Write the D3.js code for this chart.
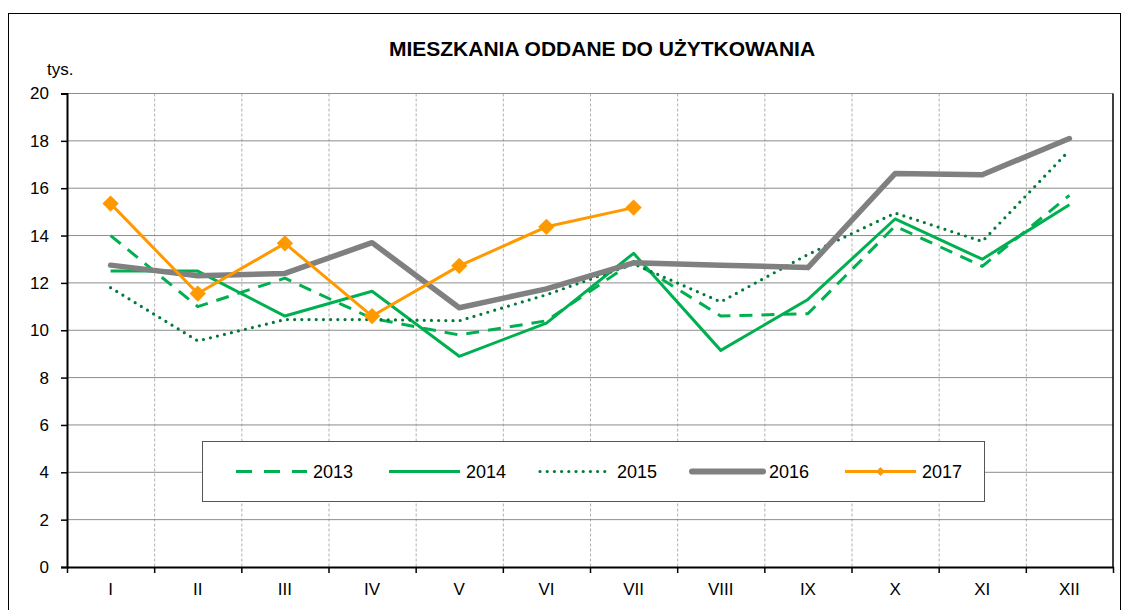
<!DOCTYPE html>
<html>
<head>
<meta charset="utf-8">
<script src="https://cdn.jsdelivr.net/npm/d3@7"></script>
<style>
  body { margin: 0; background: #fff; }
  svg text { font-family: "Liberation Sans", Arial, sans-serif; }
</style>
</head>
<body>
<svg id="canvas"></svg>
<script>
let months = ["I", "II", "III", "IV", "V", "VI", "VII", "VIII", "IX", "X", "XI", "XII"]
let yTicks = [0, 2, 4, 6, 8, 10, 12, 14, 16, 18, 20]

let v2013 = [14.0, 11.0, 12.2, 10.5, 9.8, 10.4, 12.9, 10.6, 10.7, 14.4, 12.7, 15.7]
let v2014 = [12.5, 12.5, 10.6, 11.65, 8.9, 10.3, 13.25, 9.15, 11.3, 14.7, 13.0, 15.3]
let v2015 = [11.8, 9.55, 10.45, 10.45, 10.4, 11.5, 12.8, 11.2, 13.2, 14.95, 13.75, 17.6]
let v2016 = [12.75, 12.3, 12.4, 13.7, 10.95, 11.75, 12.85, 12.75, 12.65, 16.62, 16.57, 18.1]
let v2017 = [15.35, 11.55, 13.67, 10.6, 12.72, 14.37, 15.18]

let width = 1130
let height = 610
let plotLeft = 67
let plotRight = 1113
let plotTop = 93.5
let plotBottom = 567

let svg = d3.select("#canvas")
    .attr("width", width)
    .attr("height", height)

// outer frame
svg.append("rect")
    .attr("x", 8.5).attr("y", 13.5)
    .attr("width", 1112).attr("height", 640)
    .attr("fill", "none").attr("stroke", "#000").attr("stroke-width", 1)

let xScale = d3.scaleBand().domain(months).range([plotLeft, plotRight])
let xEdge = d3.scaleLinear().domain([0, 12]).range([plotLeft, plotRight])
let yScale = d3.scaleLinear().domain([0, 20]).range([plotBottom, plotTop])

// gridlines
svg.append("g")
    .selectAll("line")
    .data(d3.range(1, 12))
    .enter()
    .append("line")
    .attr("x1", (d) => xEdge(d) + 0.5).attr("x2", (d) => xEdge(d) + 0.5)
    .attr("y1", plotTop).attr("y2", plotBottom)
    .attr("stroke", "#b0b0b0").attr("stroke-dasharray", "3,2")

svg.append("g")
    .selectAll("line")
    .data(yTicks.slice(1))
    .enter()
    .append("line")
    .attr("x1", plotLeft).attr("x2", plotRight)
    .attr("y1", (d) => yScale(d)).attr("y2", (d) => yScale(d))
    .attr("stroke", "#8c8c8c").attr("stroke-width", 1)

// right border of plot
svg.append("line")
    .attr("x1", plotRight).attr("x2", plotRight)
    .attr("y1", plotTop).attr("y2", plotBottom)
    .attr("stroke", "#000").attr("stroke-width", 1.5)

// axes
let yAxis = d3.axisLeft(yScale).tickValues(yTicks).tickSize(6).tickPadding(12)
let yG = svg.append("g").attr("transform", "translate(" + plotLeft + ",0)").call(yAxis)
yG.select(".domain").attr("stroke", "#000").attr("stroke-width", 2)
yG.selectAll(".tick line").attr("stroke", "#000").attr("stroke-width", 1.5)
yG.selectAll("text").attr("font-size", 17).attr("fill", "#000")

let xAxis = d3.axisBottom(xEdge).tickValues(d3.range(0, 13)).tickFormat("").tickSize(6).tickSizeOuter(0)
let xG = svg.append("g").attr("transform", "translate(0," + plotBottom + ")").call(xAxis)
xG.select(".domain").attr("stroke", "#000").attr("stroke-width", 2)
xG.selectAll(".tick line").attr("stroke", "#000").attr("stroke-width", 1.5)

let xLab = d3.axisBottom(xScale).tickSize(0).tickPadding(16)
let xL = svg.append("g").attr("transform", "translate(0," + plotBottom + ")").call(xLab)
xL.select(".domain").remove()
xL.selectAll("text").attr("font-size", 17).attr("fill", "#000")

// titles
svg.append("text")
    .attr("x", 602).attr("y", 56)
    .attr("text-anchor", "middle")
    .attr("font-size", 21).attr("font-weight", "bold")
    .text("MIESZKANIA ODDANE DO UŻYTKOWANIA")

svg.append("text")
    .attr("x", 47).attr("y", 75)
    .attr("font-size", 17)
    .text("tys.")

// series
let series = [
    { name: "2013", values: v2013, color: "#00b050", width: 3, dash: "13,9", cap: "butt" },
    { name: "2014", values: v2014, color: "#00b050", width: 3, dash: null, cap: "butt" },
    { name: "2015", values: v2015, color: "#007a3a", width: 3.2, dash: "0,7.2", cap: "round" },
    { name: "2016", values: v2016, color: "#808080", width: 5.5, dash: null, cap: "round" },
    { name: "2017", values: v2017, color: "#ff9900", width: 3, dash: null, cap: "butt" }
]

let line = d3.line()
    .x((d, i) => xScale(months[i]) + xScale.bandwidth() / 2)
    .y((d) => yScale(d))

series.forEach((s) => {
    svg.append("path")
        .datum(s.values)
        .attr("d", line)
        .attr("fill", "none")
        .attr("stroke", s.color)
        .attr("stroke-width", s.width)
        .attr("stroke-linecap", s.cap)
        .attr("stroke-linejoin", "round")
        .attr("stroke-dasharray", s.dash)
})

let diamond = d3.symbol().type(d3.symbolDiamond2).size(170)
svg.append("g")
    .selectAll("path")
    .data(v2017)
    .enter()
    .append("path")
    .attr("d", diamond)
    .attr("fill", "#ff9900")
    .attr("transform", (d, i) => "translate(" + (xScale(months[i]) + xScale.bandwidth() / 2) + "," + yScale(d) + ")")

// legend
let legend = svg.append("g")
legend.append("rect")
    .attr("x", 202.5).attr("y", 441.5)
    .attr("width", 782).attr("height", 60)
    .attr("fill", "#fff").attr("stroke", "#555").attr("stroke-width", 1)

let legendX = [236, 389, 540, 692, 845]
series.forEach((s, i) => {
    let g = legend.append("g").attr("transform", "translate(" + legendX[i] + ",471.5)")
    g.append("line")
        .attr("x1", 0).attr("x2", 71)
        .attr("stroke", s.color)
        .attr("stroke-width", s.name == "2016" ? 6 : s.width)
        .attr("stroke-linecap", s.cap == "round" ? "round" : "butt")
        .attr("stroke-dasharray", s.name == "2013" ? "16,12" : s.dash)
    if (s.name == "2017") {
        g.append("path")
            .attr("d", d3.symbol().type(d3.symbolDiamond2).size(50))
            .attr("transform", "translate(35.5,0)")
            .attr("fill", s.color)
    }
    g.append("text")
        .attr("x", 77).attr("y", 6.5)
        .attr("font-size", 18)
        .text(s.name)
})
</script>
</body>
</html>
